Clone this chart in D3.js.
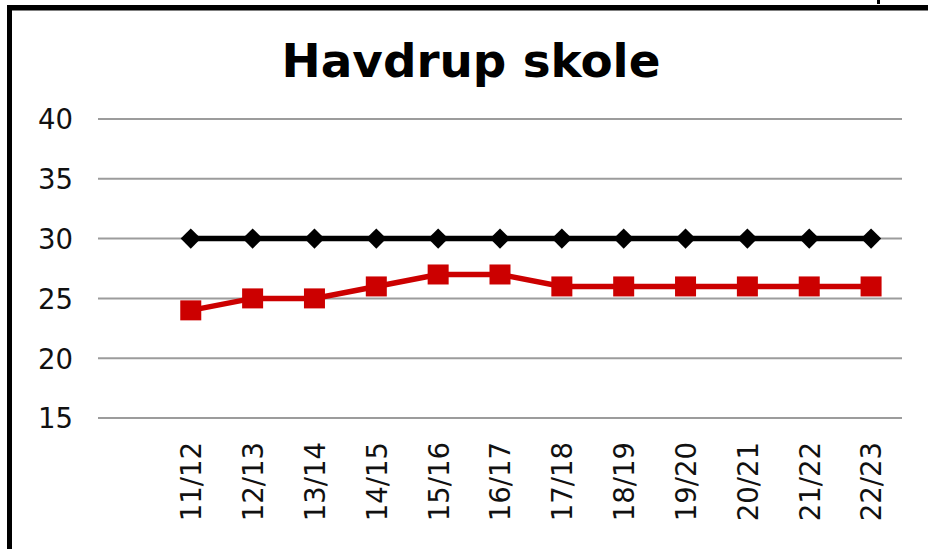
<!DOCTYPE html>
<html><head><meta charset="utf-8">
<script src="https://cdn.jsdelivr.net/npm/d3@7"></script>
<style>html,body{margin:0;padding:0;background:#fff;}svg{display:block;}</style>
</head><body>
<script>
const title = "Havdrup skole";
const categories = ["11/12","12/13","13/14","14/15","15/16","16/17","17/18","18/19","19/20","20/21","21/22","22/23"];
const redValues = [24,25,25,26,27,27,26,26,26,26,26,26];
const blackValues = [30,30,30,30,30,30,30,30,30,30,30,30];
const yTicks = [15,20,25,30,35,40];

const W = 928, H = 549;
const svg = d3.select("body").append("svg").attr("width", W).attr("height", H);
const font = "'DejaVu Sans', Verdana, sans-serif";

// frame
svg.append("rect").attr("x",7).attr("y",5).attr("width",W).attr("height",5.5).attr("fill","#000");
svg.append("rect").attr("x",7).attr("y",5).attr("width",5).attr("height",H).attr("fill","#000");
svg.append("rect").attr("x",877).attr("y",0).attr("width",3).attr("height",4).attr("fill","#000");

const left = 98, right = 902;
const step = (right-left)/13;
const x = d3.scalePoint().domain(categories).range([left+1.5*step, left+12.5*step]);
const y = d3.scaleLinear().domain([15,40]).range([418,119]);

// gridlines
svg.append("g").selectAll("line").data(yTicks).join("line")
  .attr("x1",left).attr("x2",right)
  .attr("y1",d=>y(d)).attr("y2",d=>y(d))
  .attr("stroke","#9c9c9c").attr("stroke-width",2);

// y axis labels
const yAxis = d3.axisLeft(y).tickValues(yTicks).tickSize(0).tickPadding(0);
const gy = svg.append("g").attr("transform","translate(73,0)").call(yAxis);
gy.select(".domain").remove();
gy.selectAll("text").attr("font-family",font).attr("font-size",27.5).attr("fill","#111").attr("dy","0.36em");

// x axis labels
const xAxis = d3.axisBottom(x).tickSize(0).tickPadding(0);
const gx = svg.append("g").attr("transform","translate(0,442)").call(xAxis);
gx.select(".domain").remove();
gx.selectAll(".tick text").attr("font-family",font).attr("font-size",27.5).attr("fill","#111")
  .attr("transform","rotate(-90)").attr("text-anchor","end").attr("x",0).attr("y",0).attr("dy","0.36em");

// lines
const line = d3.line().x((d,i)=>x(categories[i])).y(d=>y(d));
svg.append("path").datum(blackValues).attr("d",line).attr("fill","none").attr("stroke","#000").attr("stroke-width",5.5);
svg.append("path").datum(redValues).attr("d",line).attr("fill","none").attr("stroke","#cc0000").attr("stroke-width",5.5);

// markers
const diamond = d3.symbol().type(d3.symbolSquare).size(205);
svg.append("g").selectAll("path").data(blackValues).join("path")
  .attr("d",diamond)
  .attr("transform",(d,i)=>`translate(${x(categories[i])},${y(d)}) rotate(45)`)
  .attr("fill","#000");
svg.append("g").selectAll("rect").data(redValues).join("rect")
  .attr("x",(d,i)=>x(categories[i])-10.5).attr("y",d=>y(d)-10)
  .attr("width",21).attr("height",20).attr("fill","#cc0000");

// title
const t = svg.append("text").attr("x",471).attr("y",77).attr("text-anchor","middle")
  .attr("font-family",font).attr("font-weight","bold").attr("font-size",50).attr("fill","#000").text(title);
const len = t.node().getComputedTextLength();
t.attr("font-size", 50*379/len);
</script>
</body></html>
